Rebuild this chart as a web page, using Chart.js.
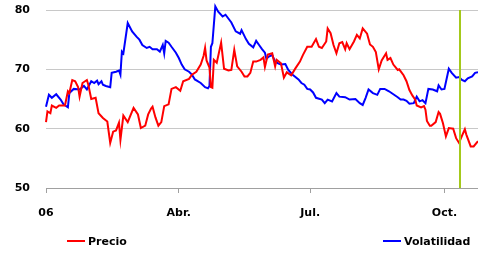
<!DOCTYPE html>
<html>
<head>
<meta charset="utf-8">
<script src="https://cdn.jsdelivr.net/npm/chart.js@4"></script>
<style>
  body { margin: 0; background: #fff; }
  #wrap { position: relative; width: 478px; height: 254px; }
  .leyenda { position: absolute; top: 234px; font: bold 11px "DejaVu Sans", sans-serif; color: #000; line-height: 16px; white-space: nowrap; }
  .leyenda i { display: inline-block; width: 18px; height: 2px; vertical-align: middle; margin-right: 3px; margin-top: -2px; }
</style>
</head>
<body>
<div id="wrap">
  <canvas id="grafico" width="478" height="254"></canvas>
  <div class="leyenda" style="left:67px"><i style="background:#ff0000"></i>Precio</div>
  <div class="leyenda" style="left:383px"><i style="background:#0000ff"></i>Volatilidad</div>
</div>
<script>
// dias desde el 1 de enero de 2006
const precioDias = [0,1,3,4,7,9,13,15,16,18,20,22,23,25,28,29,31,34,36,39,42,44,46,48,50,51,53,56,60,63,65,68,70,72,73,75,77,79,81,84,86,89,92,94,98,100,103,106,108,109,110,112,113,114,115,117,120,122,125,127,129,131,134,136,138,140,142,144,147,149,150,152,155,157,158,161,163,165,168,171,174,176,179,182,185,187,189,192,193,195,197,199,201,203,205,206,208,211,213,215,217,220,222,224,226,228,230,233,234,236,238,241,242,245,247,249,251,253,254,257,259,260,261,263,264,267,269,270,272,274,276,279,281,283,285,287,288,291,293,296];
const precioValores = [61.1,62.9,62.6,63.9,63.5,63.9,63.9,66.3,66.0,68.2,68.0,67.0,65.4,67.7,68.2,67.4,65.0,65.2,62.6,61.8,61.2,57.6,59.5,59.7,61.0,58.1,62.2,61.1,63.5,62.4,60.1,60.5,62.4,63.4,63.7,61.9,60.5,61.1,63.8,64.1,66.7,67.0,66.4,68.0,68.4,69.1,69.6,70.8,72.3,73.6,71.5,70.3,67.0,66.9,71.6,71.1,74.5,70.1,69.8,69.9,73.3,70.5,69.6,68.8,68.8,69.4,71.3,71.3,71.6,72.0,70.4,72.5,72.7,70.5,71.6,71.0,68.6,69.5,69.0,70.2,71.3,72.4,73.8,73.8,75.1,73.8,73.6,74.7,76.9,76.1,74.1,72.7,74.4,74.6,73.4,74.4,73.4,74.7,75.8,75.2,76.9,76.0,74.2,73.8,72.9,70.0,71.5,72.7,71.6,71.9,70.8,69.9,70.0,69.0,68.0,66.5,65.6,64.9,63.9,63.6,63.8,63.2,61.3,60.5,60.5,61.1,62.8,62.5,60.9,58.7,60.1,60.0,58.4,57.6,58.8,59.9,59.0,57.0,57.0,57.9];

const volDias = [0,2,4,7,10,12,15,16,19,23,26,28,31,33,35,36,38,39,41,44,45,48,50,51,52,53,56,59,62,64,66,69,71,73,76,78,80,81,82,84,86,89,91,93,95,98,100,102,106,109,111,112,113,114,116,118,121,123,127,130,133,134,137,139,142,144,146,148,150,151,153,155,157,159,161,164,166,169,173,175,177,179,181,183,185,189,191,193,196,199,201,205,208,212,215,217,219,221,224,227,229,232,235,238,241,243,245,247,249,252,254,256,258,260,262,265,268,269,271,273,276,278,281,283,285,287,289,292,294,296];
const volValores = [63.7,65.7,65.2,65.8,64.9,64.1,63.6,66.0,66.7,66.6,67.2,66.6,68.0,67.7,68.1,67.5,68.0,67.4,67.2,67.0,69.4,69.6,69.8,69.1,73.0,72.7,77.8,76.4,75.5,75.0,74.1,73.6,73.8,73.4,73.4,73.0,74.1,72.7,74.8,74.5,73.8,72.8,71.9,70.8,70.0,69.6,69.1,68.3,67.7,67.0,66.8,67.2,73.8,74.4,80.6,79.7,78.9,79.2,77.9,76.4,76.0,76.6,75.1,74.3,73.7,74.8,74.1,73.4,72.8,71.8,72.2,72.4,71.3,71.0,70.8,70.9,69.9,69.1,68.3,67.7,67.4,66.7,66.6,66.1,65.2,64.9,64.3,64.9,64.6,66.0,65.4,65.3,64.9,65.0,64.3,64.0,65.2,66.6,66.0,65.7,66.7,66.7,66.3,65.8,65.3,64.9,64.9,64.7,64.2,64.3,65.4,64.6,64.8,64.3,66.7,66.6,66.3,67.3,66.6,66.7,70.1,69.4,68.6,68.7,68.2,68.0,68.5,68.8,69.4,69.5];

const tickDias = [0, 91, 181, 273];
const tickEtiquetas = ['06', 'Abr.', 'Jul.', 'Oct.'];
const marcaDia = 284;

const fuente = { family: '"DejaVu Sans", sans-serif', size: 11, weight: 'bold' };

const lineaMarca = {
  id: 'lineaMarca',
  afterDatasetsDraw(chart) {
    const ctx = chart.ctx;
    const area = chart.chartArea;
    const x = Math.round(chart.scales.x.getPixelForValue(marcaDia));
    ctx.save();
    ctx.strokeStyle = '#a4c91b';
    ctx.lineWidth = 2;
    ctx.beginPath();
    ctx.moveTo(x, area.top);
    ctx.lineTo(x, area.bottom);
    ctx.stroke();
    ctx.restore();
  }
};

new Chart(document.getElementById('grafico'), {
  type: 'line',
  data: {
    datasets: [
      {
        label: 'Precio',
        data: precioDias.map((d, i) => ({ x: d, y: precioValores[i] })),
        borderColor: '#ff0000',
        borderWidth: 2,
        pointRadius: 0,
        tension: 0,
        clip: false
      },
      {
        label: 'Volatilidad',
        data: volDias.map((d, i) => ({ x: d, y: volValores[i] })),
        borderColor: '#0000ff',
        borderWidth: 2,
        pointRadius: 0,
        tension: 0,
        clip: false
      }
    ]
  },
  options: {
    responsive: false,
    animation: false,
    layout: { padding: { top: 10, right: 0, left: 0, bottom: 0 } },
    plugins: {
      legend: { display: false },
      tooltip: { enabled: false }
    },
    scales: {
      x: {
        type: 'linear',
        min: 0,
        max: 296,
        afterBuildTicks: (axis) => { axis.ticks = tickDias.map(v => ({ value: v })); },
        afterFit: (axis) => { axis.height = 66; },
        ticks: {
          autoSkip: false,
          maxRotation: 0,
          padding: 14,
          color: '#000',
          font: fuente,
          callback: (v) => tickEtiquetas[tickDias.indexOf(v)]
        },
        grid: { drawOnChartArea: false, tickLength: 5, color: '#a0a0a0' },
        border: { color: '#a0a0a0' }
      },
      y: {
        min: 50,
        max: 80,
        afterFit: (axis) => {
          axis.width = 46;
          axis.paddingTop = 0;
          axis.paddingBottom = 0;
        },
        ticks: { stepSize: 10, padding: 16, color: '#000', font: fuente },
        grid: { drawTicks: false, color: '#c8c8c8' },
        border: { display: false }
      }
    }
  },
  plugins: [lineaMarca]
});
</script>
</body>
</html>
